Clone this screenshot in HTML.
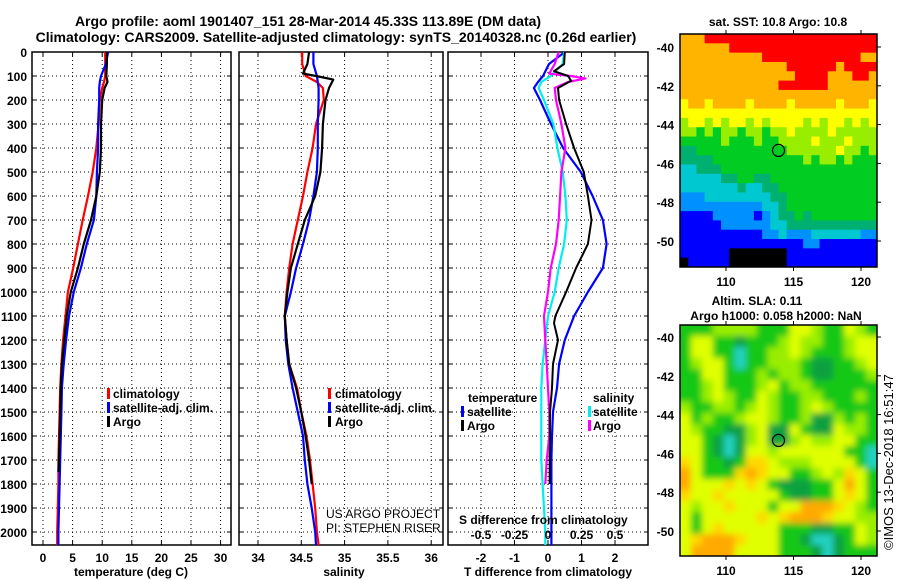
<!DOCTYPE html>
<html><head><meta charset="utf-8"><style>
html,body{margin:0;padding:0;background:#fff;}
svg{display:block;font-family:"Liberation Sans",Arial,sans-serif;}
.t{font-weight:bold;font-size:12px;fill:#000;}
.ti{font-weight:bold;font-size:14px;fill:#000;}
.g{stroke:#000;stroke-width:1;stroke-dasharray:1,3;}
</style></head><body>
<svg id="c" width="900" height="580" viewBox="0 0 900 580">
<text class="ti" x="308" y="26" text-anchor="middle">Argo profile: aoml 1901407_151 28-Mar-2014 45.33S 113.89E (DM data)</text>
<text class="ti" x="336" y="42" text-anchor="middle">Climatology: CARS2009. Satellite-adjusted climatology: synTS_20140328.nc (0.26d earlier)</text>
</svg>
<script>
// ---------- data ----------
const depths = [0,50,100,125,150,200,300,400,500,600,700,800,900,1000,1100,1200,1300,1400,1500,1600,1700,1800,1900,2000,2054];
const tempClim = [10.5,10.5,10.5,10.3,10.0,9.6,9.4,9.0,8.4,7.6,6.7,5.9,5.1,4.2,3.8,3.4,3.1,2.9,2.8,2.7,2.6,2.6,2.5,2.4,2.4];
const tempSat  = [11.0,10.6,9.8,9.6,9.5,9.5,9.3,9.3,9.1,9.0,8.6,7.4,6.4,5.2,4.4,3.9,3.5,3.2,3.1,3.0,2.9,2.8,2.7,2.6,2.6];
const tempArgoDepth = [0,50,100,125,150,200,300,400,500,600,700,800,900,1000,1100,1200,1300,1400,1500,1600,1700,1750];
const tempArgo = [10.8,10.8,10.7,10.9,10.4,10.0,9.8,9.8,9.6,9.0,8.1,6.9,5.9,4.7,4.0,3.6,3.2,3.0,2.9,2.8,2.7,2.6];
const salClim = [34.51,34.51,34.55,34.68,34.75,34.76,34.67,34.63,34.57,34.52,34.46,34.40,34.36,34.33,34.31,34.33,34.36,34.45,34.50,34.56,34.60,34.63,34.66,34.68,34.70];
const salSat  = [34.64,34.64,34.68,34.69,34.70,34.70,34.69,34.69,34.68,34.64,34.59,34.52,34.44,34.38,34.31,34.32,34.35,34.40,34.46,34.52,34.54,34.57,34.62,34.66,34.67];
const salArgoDepth = [0,50,90,100,115,150,200,300,400,500,600,700,800,900,1000,1100,1200,1300,1400,1500,1600,1700,1800];
const salArgo = [34.59,34.57,34.52,34.67,34.87,34.82,34.78,34.75,34.74,34.72,34.66,34.54,34.46,34.38,34.34,34.31,34.33,34.36,34.44,34.50,34.55,34.59,34.62];
const dTSat  = [0.5,0.03,-0.15,-0.3,-0.42,-0.24,0.09,0.45,0.98,1.33,1.64,1.75,1.64,1.19,0.78,0.5,0.33,0.27,0.15,0.12,0.1,0.1,0.1,0.1,0.1];
const dSSat  = [0.12,0.11,0.02,-0.05,-0.07,-0.03,0.04,0.07,0.11,0.13,0.14,0.12,0.08,0.05,0.0,-0.02,-0.04,-0.05,-0.05,-0.05,-0.05,-0.04,-0.03,-0.02,-0.02];
const dTArgoDepth = [0,50,80,100,120,150,200,300,400,500,600,700,800,900,1000,1100,1130,1200,1300,1400,1500,1600,1700,1800];
const dTArgo = [0.5,0.48,0.18,0.6,0.69,0.3,0.33,0.54,0.78,1.07,1.19,1.3,1.19,0.84,0.54,0.22,0.18,0.3,0.15,0.12,0.06,0.06,0.05,0.05];
const dSArgoDepth = [0,50,90,100,110,125,150,200,300,400,500,600,700,800,900,1000,1100,1200,1300,1400,1500,1600,1700,1800];
const dSArgo = [0.08,0.05,0.01,0.17,0.28,0.15,0.05,0.06,0.1,0.13,0.1,0.09,0.08,0.06,0.02,0.0,-0.03,-0.02,-0.01,0.0,0.01,0.01,-0.01,-0.02];
const depthTicks = [0,100,200,300,400,500,600,700,800,900,1000,1100,1200,1300,1400,1500,1600,1700,1800,1900,2000];
const tempTicks = [0,5,10,15,20,25,30];
const salTicks = [34,34.5,35,35.5,36];
const salTickLabels = ["34","34.5","35","35.5","36"];
const dTTicks = [-2,-1,0,1,2];
const dSTicks = [-0.5,-0.25,0,0.25,0.5];
const dSTickLabels = ["-0.5","-0.25","0","0.25","0.5"];
const lonTicks = [110,115,120];
const latTicks = [-40,-42,-44,-46,-48,-50];
const argoLon = 113.89, argoLat = -45.33;
// SST grid codes (rows north->south)
const sstRows = [
"OOORRRRRRRRRRRRRRRRRRRRR","OOOOOORRRRRRRRRRRRRRRRRR","OOOOOOOOOORRRRRRRRRRRROO","OOOOOOOOOOOOORRRRRRORRRR",
"OOOOOOOOOOOOOORRRROOORRO","OOOOOOOOOOOORRRRRROOOOOO","OOOOOOOOOOOOOOOOOOOOOOOO","YOOYOOOOYOOOOYOOOOOYOOOY",
"YYYYYYYYYYYYYYYYYYYYYYYY","LYYLYLYYLYLYYYYLYLYYLYLY","LLGLGLLGLLGLLYLLLLYLLLLL","GGGGGLGGGLGGLLLLYLLLYLLL",
"TTGGGGGGGGGGGLLLLLLYLLGL","TTTTGGGGGGGGGGGLGLLGLGGG","CCTTTGGGGGGGGGGGGGGGGGGG","CCCCCTTGGTTGGGGGGGGGGGGG",
"CCCCCCCTCCTTGGGGGGGGGGGG","BBBCCCCCCCCTTGGGGGGGGGGG","BBBBBBBBBBCCTGGGGGGGGGGG","DDDDBBBBBDBCTTGTGGGGGGGG",
"DDDDDBBBBBBCCTTTTTTTTTTT","DDDDDDDDDDBBCBBBCCCCCCBB","DDDDDDDDDDDDDDDBBDDDDDDD","DDDDDDKKKKKKKDDDDDDDDDDD",
"KDDDDDKKKKKKKDDDDDDDDDDD"];
const slaRows = [
"GGGLLLLGGGYYLGGYLG","GYYGGDGGGLYLLGGLYY","GYYGGTGGLLYLGGGLYY","GLYYGTGGLLLGDDGGLY",
"GGYYGGGLGLLGDDGGGL","GGLYGGGLYGLLGGGGGG","GGLYLGGYLGGLLGGGLG","LGGLLGLYLGGLYLGGGG",
"YGLGGLYYLGGLDDLGLG","YLGGDDLYDDYGDDYLLG","YYGDTDLYDDLYLLYYGG","YYGDTDYYLYYYYYYGGT",
"OYGGDGOOYLLLYYYYGT","AYGGGOAOYYGGLYLOYG","AYYYOYOYGDDDGGYAYG","OYYOYYYYYGDDGGYOYG",
"YLYYOYYYGYYAAAOYLG","YGYYYYYOYOAAAOYYLL","YGYOYYYYYGGGDDGGYL","YOAAAOYYYGGDTTDGYL",
"YAAAAYYYYGGGDTDGGG"];
const sstColors = {R:"#ff0000",O:"#ffb400",Y:"#ffff00",L:"#99ee00",G:"#00cc22",T:"#00b070",C:"#00c8d0",B:"#0090ff",D:"#0000ff",K:"#000000"};
const slaColors = {G:"#18c818",D:"#0ca040",T:"#20d0c0",L:"#99ee00",Y:"#e0ff00",O:"#ffd800",A:"#ffaa00"};

// ---------- helpers ----------
const NS="http://www.w3.org/2000/svg";
const svg=document.getElementById('c');
function mk(tag,attrs,parent){const e=document.createElementNS(NS,tag);for(const k in attrs)e.setAttribute(k,attrs[k]);(parent||svg).appendChild(e);return e;}
const Y0=52, Y1=545;
const yD = d => Y0 + d*0.24;
const xT = t => 43 + t*5.92;
const xS = s => 258 + (s-34)*86.6;
const xDT = v => 548 + v*33.5;
const xDS = v => 548 + v*134;

function panel(x0,x1,name,ticks,labels,xf){
  const g=mk('g',{});
  
  
  ticks.forEach(t=>{const x=xf(t);mk('line',{x1:x,x2:x,y1:Y0,y2:Y1,class:'g'},g);});
  depthTicks.forEach(d=>{const y=yD(d);mk('line',{x1:x0,x2:x1,y1:y,y2:y,class:'g'},g);
    mk('line',{x1:x0,x2:x0+4,y1:y,y2:y,stroke:'#000'},g);mk('line',{x1:x1-4,x2:x1,y1:y,y2:y,stroke:'#000'},g);});
  ticks.forEach(t=>{const x=xf(t);mk('line',{x1:x,x2:x,y1:Y1-4,y2:Y1,stroke:'#000'},g);mk('line',{x1:x,x2:x,y1:Y0,y2:Y0+4,stroke:'#000'},g);});
  const fr=mk('rect',{x:x0,y:Y0,width:x1-x0,height:Y1-Y0,fill:'none',stroke:'#000','stroke-width':1.5},g);
  
  
  if(labels) ticks.forEach((t,i)=>{const tx=mk('text',{x:xf(t),y:Y1+17,class:'t','text-anchor':'middle'},g);tx.textContent=labels[i];
    
    });
  return g;
}
function line(xs,ds,xf,color,name,w){
  const pts=xs.map((v,i)=>xf(v).toFixed(1)+','+yD(ds[i]).toFixed(1)).join(' ');
  const p=mk('polyline',{points:pts,fill:'none',stroke:color,'stroke-width':w||2.2,'stroke-linejoin':'round'});
  
  
  return p;
}
function txt(x,y,s,name,extra){const t=mk('text',Object.assign({x:x,y:y,class:'t'},extra||{}));t.textContent=s;
  
  
  return t;}
function legMark(x,y,color){const r=mk('rect',{x:x,y:y-10,width:3,height:11,fill:color});
  
  }

// ---------- depth axis ----------
depthTicks.forEach(d=>{txt(27,yD(d)+5,String(d),'y-tick-label',{'text-anchor':'end'});});

// ---------- panel 1: temperature ----------
panel(32,231,'temperature-panel',tempTicks,tempTicks.map(String),xT);
line(tempClim,depths,xT,'#ff0000','temp-climatology-line');
line(tempSat,depths,xT,'#0000ff','temp-satellite-line');
line(tempArgo,tempArgoDepth,xT,'#000000','temp-argo-line');
txt(131,576,'temperature (deg C)','x-axis-title-temperature',{'text-anchor':'middle'});
[['climatology','#ff0000'],['satellite-adj. clim.','#0000ff'],['Argo','#000']].forEach((l,i)=>{
  legMark(107,398+i*14,l[1]);txt(113,398+i*14,l[0],'legend-entry-temp');});

// ---------- panel 2: salinity ----------
panel(239,443,'salinity-panel',salTicks,salTickLabels,xS);
line(salClim,depths,xS,'#ff0000','sal-climatology-line');
line(salSat,depths,xS,'#0000ff','sal-satellite-line');
line(salArgo,salArgoDepth,xS,'#000000','sal-argo-line');
txt(344,576,'salinity','x-axis-title-salinity',{'text-anchor':'middle'});
[['climatology','#ff0000'],['satellite-adj. clim.','#0000ff'],['Argo','#000']].forEach((l,i)=>{
  legMark(328,398+i*14,l[1]);txt(335,398+i*14,l[0],'legend-entry-sal');});
txt(326,518,'US ARGO PROJECT','credit-project',{style:'font-weight:normal'});
txt(326,532,'PI: STEPHEN RISER','credit-pi',{style:'font-weight:normal'});

// ---------- panel 3: differences ----------
panel(448,648,'difference-panel',dTTicks,dTTicks.map(String),xDT);
line(dTSat,depths,xDT,'#0000ff','dT-satellite-line');
line(dSSat,depths,xDS,'#00eeee','dS-satellite-line');
line(dSArgo,dSArgoDepth,xDS,'#ff00ff','dS-argo-line');
line(dTArgo,dTArgoDepth,xDT,'#000000','dT-argo-line',2);
txt(548,576,'T difference from climatology','x-axis-title-tdiff',{'text-anchor':'middle'});
txt(459,524,'S difference from climatology','s-diff-axis-title');
dSTicks.forEach((v,i)=>txt(xDS(v),539,dSTickLabels[i],'s-diff-tick-label',{'text-anchor':'middle'}));
txt(468,402,'temperature','legend-header-temperature');
legMark(461,416,'#0000ff');txt(467,416,'satellite','legend-entry-dT-satellite');
legMark(461,430,'#000');txt(467,430,'Argo','legend-entry-dT-argo');
txt(593,402,'salinity','legend-header-salinity');
legMark(588,416,'#00eeee');txt(593,416,'satellite','legend-entry-dS-satellite');
legMark(588,430,'#ff00ff');txt(593,430,'Argo','legend-entry-dS-argo');

// ---------- maps ----------
const MX0=680, MX1=877;
const lonX = lon => 726 + (lon-110)*13.5;
function map(y0,y1,latRef,rows,colors,name,blur){
  const g=mk('g',{});
  
  
  const latY = lat => latRef + (-40-lat)*19.4;
  const cid=name+'-clip';
  const cp=mk('clipPath',{id:cid},g);mk('rect',{x:MX0,y:y0,width:MX1-MX0,height:y1-y0},cp);
  const inner=mk('g',{'clip-path':'url(#'+cid+')'},g);
  let tgt=inner;
  if(blur){const f=mk('filter',{id:name+'-f',x:'-10%',y:'-10%',width:'120%',height:'120%'},g);
    mk('feGaussianBlur',{stdDeviation:3.2},f);tgt=mk('g',{filter:'url(#'+name+'-f)'},inner);}
  const nr=rows.length, nc=rows[0].length;
  const cw=(MX1-MX0)/nc, ch=(y1-y0)/nr;
  const pad=blur?12:0;
  rows.forEach((r,i)=>{for(let j=0;j<nc;j++){
    let x=MX0+j*cw, y=y0+i*ch, w=cw+0.6, h=ch+0.6;
    if(blur){ if(j==0){x-=pad;w+=pad;} if(j==nc-1){w+=pad;} if(i==0){y-=pad;h+=pad;} if(i==nr-1){h+=pad;} }
    const c=mk('rect',{x:x,y:y,width:w,height:h,fill:colors[r[j]]},tgt);
    
    }});
  mk('rect',{x:MX0,y:y0,width:MX1-MX0,height:y1-y0,fill:'none',stroke:'#000','stroke-width':1.5},g);
  lonTicks.forEach(l=>{const x=lonX(l);mk('line',{x1:x,x2:x,y1:y0-4,y2:y0,stroke:'#000'},g);mk('line',{x1:x,x2:x,y1:y1,y2:y1+4,stroke:'#000'},g);
    txt(x,y1+19,String(l),'map-lon-label',{'text-anchor':'middle'});});
  latTicks.forEach(l=>{const y=latY(l);if(y<y0||y>y1)return;mk('line',{x1:MX1,x2:MX1+4,y1:y,y2:y,stroke:'#000'},g);
    txt(674,y+5,String(l),'map-lat-label',{'text-anchor':'end'});});
  const c=mk('circle',{cx:lonX(argoLon),cy:latY(argoLat),r:6,fill:'none',stroke:'#000','stroke-width':1.2},g);
  
  
}
map(34,267,47,sstRows,sstColors,'sst-map',false);
map(325,556,337,slaRows,slaColors,'sla-map',true);
txt(778,26,'sat. SST: 10.8 Argo: 10.8','sst-map-title',{'text-anchor':'middle'});
txt(757,305,'Altim. SLA: 0.11','sla-map-title',{'text-anchor':'middle'});
txt(776,320,'Argo h1000: 0.058 h2000: NaN','sla-map-subtitle',{'text-anchor':'middle'});
txt(0,0,'©IMOS 13-Dec-2018 16:51:47','timestamp',{transform:'translate(893,550) rotate(-90)',style:'font-weight:normal;font-size:13px'});
</script>
</body></html>
